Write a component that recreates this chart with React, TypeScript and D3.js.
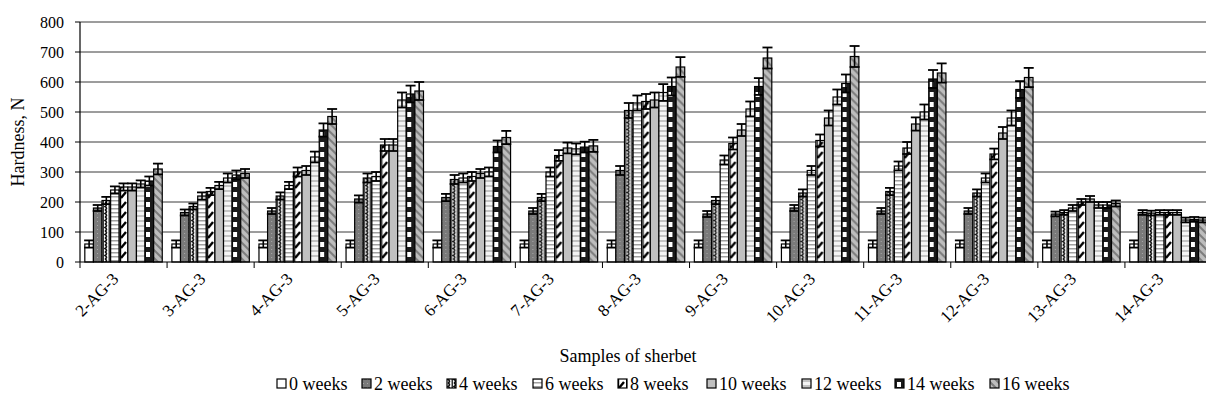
import React from "react";
import * as d3 from "d3";

const samples = ["2-AG-3", "3-AG-3", "4-AG-3", "5-AG-3", "6-AG-3", "7-AG-3", "8-AG-3", "9-AG-3", "10-AG-3", "11-AG-3", "12-AG-3", "13-AG-3", "14-AG-3"];
const weeks = ["0 weeks", "2 weeks", "4 weeks", "6 weeks", "8 weeks", "10 weeks", "12 weeks", "14 weeks", "16 weeks"];
const yTicks = [0, 100, 200, 300, 400, 500, 600, 700, 800];

// hardness per storage time, one value per sample
const w0 = [60, 60, 60, 60, 60, 60, 60, 60, 60, 60, 60, 60, 60];
const w2 = [180, 165, 170, 210, 215, 170, 305, 160, 180, 170, 170, 160, 165];
const w4 = [205, 185, 220, 280, 275, 215, 505, 205, 230, 235, 230, 165, 163];
const w6 = [240, 220, 255, 285, 280, 300, 530, 340, 305, 320, 280, 180, 165];
const w8 = [250, 235, 300, 390, 285, 355, 535, 395, 405, 380, 360, 200, 165];
const w10 = [250, 255, 305, 390, 295, 380, 540, 440, 480, 460, 430, 210, 165];
const w12 = [260, 280, 350, 540, 300, 377, 565, 510, 550, 500, 480, 190, 140];
const w14 = [270, 290, 440, 560, 385, 383, 585, 585, 595, 610, 575, 190, 142];
const w16 = [310, 295, 485, 570, 415, 387, 650, 680, 685, 630, 615, 195, 140];

// error bar half-lengths
const e0 = [12, 12, 12, 12, 12, 12, 12, 12, 12, 12, 12, 12, 12];
const e2 = [10, 10, 10, 12, 12, 10, 15, 10, 10, 10, 10, 8, 8];
const e4 = [12, 10, 12, 15, 15, 12, 25, 12, 12, 12, 12, 8, 8];
const e6 = [12, 12, 12, 15, 15, 15, 25, 15, 15, 15, 15, 10, 8];
const e8 = [12, 12, 15, 20, 15, 18, 25, 20, 20, 20, 18, 10, 8];
const e10 = [12, 12, 15, 20, 15, 18, 25, 20, 25, 22, 20, 10, 8];
const e12 = [12, 15, 18, 25, 15, 18, 28, 25, 25, 25, 25, 10, 8];
const e14 = [15, 15, 22, 28, 20, 18, 30, 28, 30, 30, 28, 10, 8];
const e16 = [18, 15, 25, 30, 22, 20, 33, 35, 35, 32, 32, 10, 8];

const values = [w0, w2, w4, w6, w8, w10, w12, w14, w16];
const errs = [e0, e2, e4, e6, e8, e10, e12, e14, e16];

const W = 1206;
const H = 406;
const serif = { fontFamily: "Liberation Serif, Times New Roman, DejaVu Serif, serif" };

function Patterns() {
  return (
    <defs>
      <pattern id="p0" width="4" height="4" patternUnits="userSpaceOnUse">
        <rect width="4" height="4" fill="#fff" />
      </pattern>
      <pattern id="p1" width="4" height="4" patternUnits="userSpaceOnUse">
        <rect width="4" height="4" fill="#7a7a7a" />
        <rect x="1" y="1" width="1" height="1" fill="#a8a8a8" />
      </pattern>
      <pattern id="p2" width="6" height="7" patternUnits="userSpaceOnUse">
        <rect width="6" height="7" fill="#fff" />
        <path d="M1,0 Q4,1.75 1,3.5 Q4,5.25 1,7" fill="none" stroke="#111" strokeWidth="1.6" />
        <rect x="4.5" y="0" width="1.5" height="7" fill="#333" />
      </pattern>
      <pattern id="p3" width="4" height="4" patternUnits="userSpaceOnUse">
        <rect width="4" height="4" fill="#fff" />
        <rect y="0" width="4" height="1.5" fill="#a0a0a0" />
      </pattern>
      <pattern id="p4" width="8" height="10" patternUnits="userSpaceOnUse">
        <rect width="8" height="10" fill="#fff" />
        <path d="M1,8 L6,2" stroke="#000" strokeWidth="2.4" />
        <rect x="0" y="0" width="1.2" height="10" fill="#000" />
      </pattern>
      <pattern id="p5" width="4" height="4" patternUnits="userSpaceOnUse">
        <rect width="4" height="4" fill="#c0c0c0" />
      </pattern>
      <pattern id="p6" width="4" height="5" patternUnits="userSpaceOnUse">
        <rect width="4" height="5" fill="#f4f4f4" />
        <rect y="0" width="4" height="2" fill="#c4c4c4" />
      </pattern>
      <pattern id="p7" width="8" height="10" patternUnits="userSpaceOnUse">
        <rect width="8" height="10" fill="#1a1a1a" />
        <rect x="2" y="2" width="4" height="5" fill="#fff" />
      </pattern>
      <pattern id="p8" width="8" height="8" patternUnits="userSpaceOnUse">
        <rect width="8" height="8" fill="#bdbdbd" />
        <path d="M0,0 L8,8 M-2,6 L2,10 M6,-2 L10,2" stroke="#7c7c7c" strokeWidth="2" />
      </pattern>
    </defs>
  );
}

export default function App() {
  const left = 80;
  const right = 1212;
  const top = 22;
  const bottom = 262;

  const x0 = d3.scaleBand<string>().domain(samples).range([left, right]).paddingInner(0).paddingOuter(0);
  const x1 = d3
    .scaleBand<string>()
    .domain(weeks)
    .range([0, x0.bandwidth()])
    .paddingInner(0)
    .paddingOuter(0.56);
  const y = d3.scaleLinear().domain([0, 800]).range([bottom, top]);

  const bw = x1.bandwidth();
  const cap = 5;

  const legendX = [277, 362, 447, 533, 618, 707, 802, 895, 990];

  return (
    <svg width={W} height={H} style={{ position: "absolute", left: 0, top: 0, background: "#fff" }}>
      <Patterns />
      <rect width={W} height={H} fill="#fff" />
      {/* grid */}
      {yTicks.map((t) => (
        <g key={t}>
          {t > 0 && <line x1={left} x2={W} y1={y(t)} y2={y(t)} stroke="#3a3a3a" strokeWidth={1} />}
          <line x1={left - 5} x2={left} y1={y(t)} y2={y(t)} stroke="#000" />
          <text x={64} y={y(t)} dy="0.35em" textAnchor="end" fontSize={16} style={serif}>
            {t}
          </text>
        </g>
      ))}
      {/* bars */}
      {samples.map((s, i) => (
        <g key={s} transform={`translate(${x0(s)},0)`}>
          {weeks.map((wk, k) => {
            const v = values[k][i];
            const e = errs[k][i];
            const bx = x1(wk) as number;
            const cx = bx + bw / 2;
            return (
              <g key={wk}>
                <rect x={bx} y={y(v)} width={bw} height={bottom - y(v)} fill={`url(#p${k})`} stroke="#000" strokeWidth={1.2} />
                <line x1={cx} x2={cx} y1={y(v - e)} y2={y(v + e)} stroke="#000" strokeWidth={1.6} />
                <line x1={cx - cap} x2={cx + cap} y1={y(v + e)} y2={y(v + e)} stroke="#000" strokeWidth={1.8} />
                <line x1={cx - cap} x2={cx + cap} y1={y(v - e)} y2={y(v - e)} stroke="#000" strokeWidth={1.8} />
              </g>
            );
          })}
        </g>
      ))}
      {/* axes */}
      <line x1={left} x2={left} y1={top} y2={bottom} stroke="#000" strokeWidth={1.2} />
      <line x1={left} x2={W} y1={bottom} y2={bottom} stroke="#000" strokeWidth={1.2} />
      {samples.map((s) => (
        <line key={s} x1={x0(s)} x2={x0(s)} y1={bottom} y2={bottom + 6} stroke="#000" />
      ))}
      {samples.map((s) => {
        const cx = (x0(s) as number) + x0.bandwidth() / 2 - 4;
        return (
          <text key={s} transform={`translate(${cx},${bottom + 18}) rotate(-45)`} textAnchor="end" fontSize={17} style={serif}>
            {s}
          </text>
        );
      })}
      <text transform={`translate(24,${(top + bottom) / 2}) rotate(-90)`} textAnchor="middle" fontSize={18} style={serif}>
        Hardness, N
      </text>
      <text x={628} y={362} textAnchor="middle" fontSize={18} style={serif}>
        Samples of sherbet
      </text>
      {/* legend */}
      {weeks.map((wk, k) => (
        <g key={wk} transform={`translate(${legendX[k]},390)`}>
          <rect x={0} y={-11} width={9} height={9} fill={`url(#p${k})`} stroke="#000" strokeWidth={1.2} />
          <text x={12} y={0} fontSize={18} style={serif}>
            {wk}
          </text>
        </g>
      ))}
    </svg>
  );
}
